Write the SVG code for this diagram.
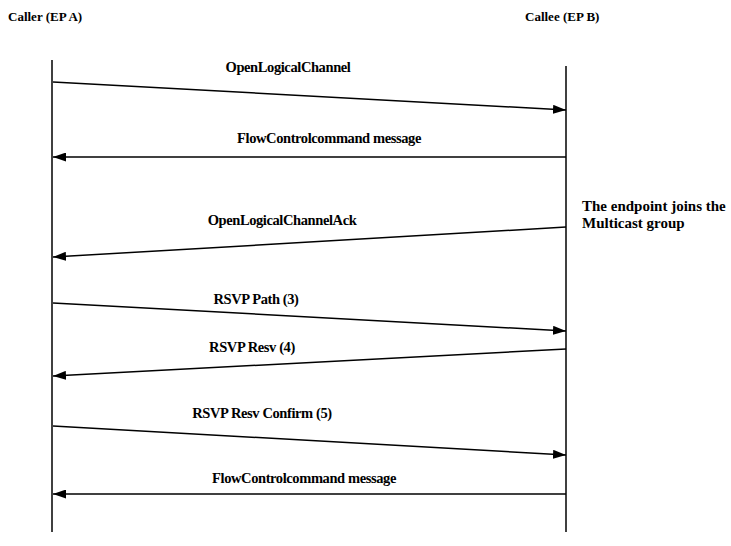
<svg xmlns="http://www.w3.org/2000/svg" width="731" height="546" viewBox="0 0 731 546">
<defs>
<marker id="ah" viewBox="0 0 13 9" refX="13" refY="4.5" markerWidth="13" markerHeight="9" markerUnits="userSpaceOnUse" orient="auto">
<path d="M0,0 L13,4.5 L0,9 Z" fill="#000"/>
</marker>
<style>
.h{font-size:13px}
.l{font-size:14.5px;text-anchor:middle;letter-spacing:-0.4px}
.n{font-size:15px}
.ll{stroke:#000;stroke-width:1.5;fill:none}
.m{stroke:#000;stroke-width:1.5;fill:none;marker-end:url(#ah)}
</style>
</defs>
<rect width="731" height="546" fill="#fff"/>
<g font-family="'Liberation Serif', 'Times New Roman', serif" font-weight="bold" fill="#000">
<g id="caller">
<text class="h" x="8" y="21">Caller (EP A)</text>
<line class="ll" x1="52" y1="60" x2="52" y2="532"/>
</g>
<g id="callee">
<text class="h" x="525" y="21">Callee (EP B)</text>
<line class="ll" x1="566" y1="66" x2="566" y2="532"/>
</g>
<g id="note">
<text class="n" x="582" y="211">The endpoint joins the</text>
<text class="n" x="582" y="228">Multicast group</text>
</g>
<g id="connectors">
<line class="m" x1="53" y1="82" x2="566" y2="110"/>
<text class="l" x="288" y="72">OpenLogicalChannel</text>
<line class="m" x1="566" y1="157" x2="53" y2="157"/>
<text class="l" x="329" y="143">FlowControlcommand message</text>
<line class="m" x1="566" y1="227" x2="53" y2="257"/>
<text class="l" x="282" y="225">OpenLogicalChannelAck</text>
<line class="m" x1="53" y1="303" x2="566" y2="331"/>
<text class="l" x="256" y="304">RSVP Path (3)</text>
<line class="m" x1="566" y1="349" x2="53" y2="376"/>
<text class="l" x="252" y="352">RSVP Resv (4)</text>
<line class="m" x1="53" y1="426" x2="566" y2="455"/>
<text class="l" x="262" y="418">RSVP Resv Confirm (5)</text>
<line class="m" x1="566" y1="494" x2="53" y2="494"/>
<text class="l" x="304" y="483">FlowControlcommand message</text>
</g>
</g>
</svg>
